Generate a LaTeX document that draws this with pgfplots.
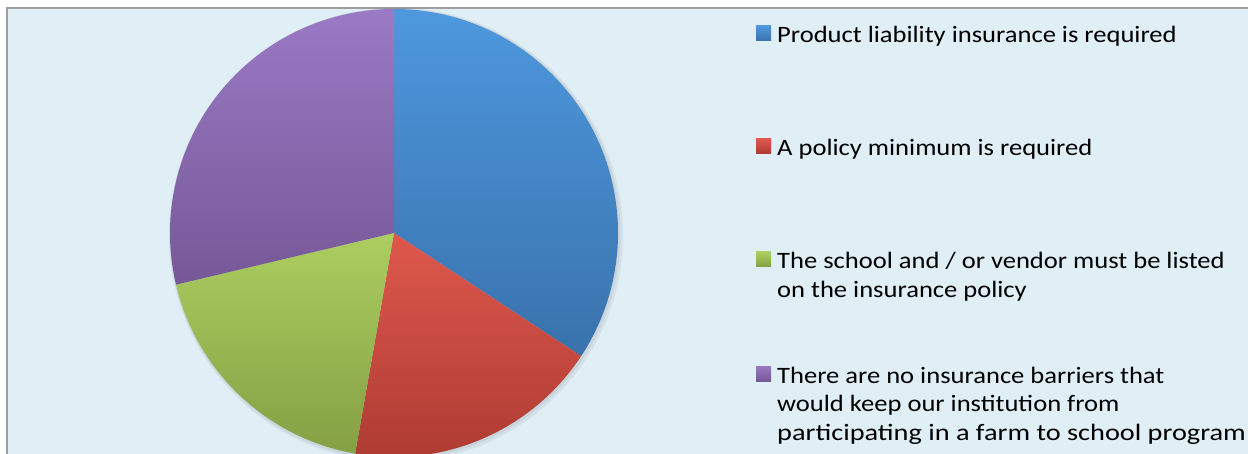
\documentclass[border=0pt]{standalone}
\usepackage{pgfplots}
\pgfplotsset{compat=1.18}
\usepackage{pgfplotstable}
\usepackage{fontspec}
\setmainfont{Carlito}[FakeStretch=1.13]
\newfontfamily\widefont{Carlito}[FakeStretch=1.205]
\definecolor{bgc}{RGB}{224,238,246}
\definecolor{brd}{RGB}{158,158,158}
\definecolor{blueT}{RGB}{78,152,222}
\definecolor{blueB}{RGB}{57,114,172}
\definecolor{redT}{RGB}{222,88,76}
\definecolor{redB}{RGB}{172,58,50}
\definecolor{greenT}{RGB}{172,206,96}
\definecolor{greenB}{RGB}{132,160,68}
\definecolor{purpT}{RGB}{154,122,196}
\definecolor{purpB}{RGB}{118,88,152}
\newcommand\legfont{\fontsize{23.5}{28.5}\selectfont}
\begin{document}
\begin{tikzpicture}
\pgfplotstableread{
value
37
20
20
31
}\piedata
\pgfplotstablegetelem{0}{value}\of\piedata\edef\vA{\pgfplotsretval}
\pgfplotstablegetelem{1}{value}\of\piedata\edef\vB{\pgfplotsretval}
\pgfplotstablegetelem{2}{value}\of\piedata\edef\vC{\pgfplotsretval}
\pgfplotstablegetelem{3}{value}\of\piedata\edef\vD{\pgfplotsretval}
\pgfmathsetmacro\tot{\vA+\vB+\vC+\vD}
\pgfmathsetmacro\aA{90-360*\vA/\tot}
\pgfmathsetmacro\aB{\aA-360*\vB/\tot}
\pgfmathsetmacro\aC{\aB-360*\vC/\tot}
\useasboundingbox (0,0) rectangle (1248pt,453pt);
\clip (0,0) rectangle (1248pt,453pt);
\begin{axis}[
  at={(0,0)}, anchor=south west,
  x=1pt, y=1pt,
  xmin=0, xmax=1248, ymin=0, ymax=453,
  hide axis, disabledatascaling, clip=true,
]
% background and frame
\fill[white] (0,0) rectangle (1248,453);
\fill[bgc] (7,-10) rectangle (1260,444.5);
\draw[brd, line width=2pt] (7,-10) -- (7,444.5) -- (1260,444.5);
% soft shadow
\fill[black, opacity=0.05] (396,218) circle[radius=227pt];
\fill[black, opacity=0.05] (395,219) circle[radius=225.5pt];
% pie slices
\path[top color=blueT, bottom color=blueB] (394,220) -- ++(90:224pt) arc[start angle=90, end angle=\aA, radius=224pt] -- cycle;
\path[top color=redT, bottom color=redB] (394,220) -- ++(\aA:224pt) arc[start angle=\aA, end angle=\aB, radius=224pt] -- cycle;
\path[top color=greenT, bottom color=greenB] (394,220) -- ++(\aB:224pt) arc[start angle=\aB, end angle=\aC, radius=224pt] -- cycle;
\path[top color=purpT, bottom color=purpB] (394,220) -- ++(\aC:224pt) arc[start angle=\aC, end angle=-270, radius=224pt] -- cycle;
% legend
\path[top color=blueT, bottom color=blueB] (756,412) rectangle (771,427);
\path[top color=redT, bottom color=redB] (756,299) rectangle (771,314);
\path[top color=greenT, bottom color=greenB] (756,186) rectangle (771,201);
\path[top color=purpT, bottom color=purpB] (756,72) rectangle (771,87);
\node[anchor=base west, inner sep=0, font=\legfont] at (777,410) {Product liability insurance is required};
\node[anchor=base west, inner sep=0, font=\legfont] at (777,297) {A policy minimum is required};
\node[anchor=base west, inner sep=0, font=\legfont] at (777,184) {The school and / or vendor must be listed};
\node[anchor=base west, inner sep=0, font=\legfont] at (777,155.5) {on the insurance policy};
\node[anchor=base west, inner sep=0, font=\legfont] at (777,70) {There are no insurance barriers that};
\node[anchor=base west, inner sep=0, font=\legfont] at (777,41.5) {would keep our institution from};
\node[anchor=base west, inner sep=0, font=\widefont\legfont] at (777,13) {participating in a farm to school program};
\end{axis}
\end{tikzpicture}
\end{document}
